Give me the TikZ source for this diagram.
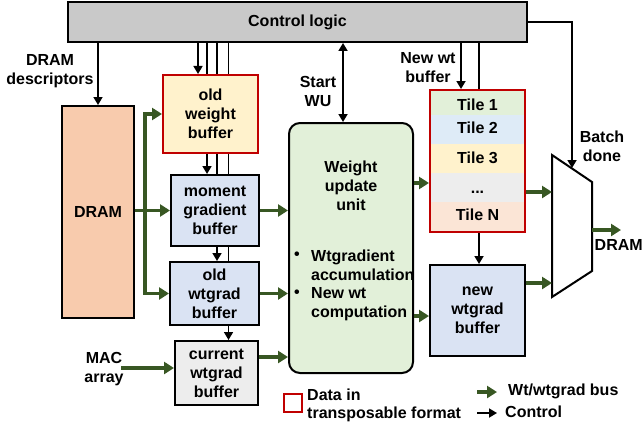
\documentclass[tikz,border=0pt]{standalone}
\usepackage{fontspec}
\setmainfont{Liberation Sans}
\usetikzlibrary{arrows.meta,backgrounds}
\definecolor{busg}{RGB}{56,87,35}
\definecolor{ctrlgray}{RGB}{201,201,201}
\definecolor{dramfill}{RGB}{248,203,173}
\definecolor{yel}{RGB}{255,242,204}
\definecolor{blu}{RGB}{218,227,243}
\definecolor{lgray}{RGB}{237,237,237}
\definecolor{grn}{RGB}{226,240,217}
\definecolor{tblu}{RGB}{222,235,247}
\definecolor{peach}{RGB}{251,229,214}
\definecolor{dred}{RGB}{192,0,0}
\begin{document}
\begin{tikzpicture}[x=1pt,y=-1pt,
  font=\fontsize{16}{19}\selectfont\bfseries,
  box/.style={draw=black, line width=2pt, align=center, inner sep=0pt},
  rowbox/.style={inner sep=0pt, minimum width=95pt},
  lbl/.style={align=center, inner sep=0pt},
  ctl/.style={line width=1.7pt, -{Triangle[length=8pt,width=9pt]}},
  dctl/.style={line width=1.7pt, {Triangle[length=8pt,width=9pt]}-{Triangle[length=8pt,width=9pt]}},
  bus/.style={draw=busg, line width=3.2pt, -{Triangle[length=10pt,width=12pt]}}]
\useasboundingbox (0,0) rectangle (642,428);

% boxes
\node[box, fill=ctrlgray, minimum width=459pt, minimum height=40pt] (ctrl) at (297.5,22) {Control logic};
\node[box, fill=dramfill, minimum width=72pt, minimum height=212pt] (dram) at (98,212) {DRAM};
\node[box, draw=dred, fill=yel, minimum width=95pt, minimum height=78pt] (oldw) at (210.5,114) {old\\weight\\buffer};
\node[box, fill=blu, minimum width=88pt, minimum height=71pt] (mom) at (215,210.5) {moment\\gradient\\buffer};
\node[box, fill=blu, minimum width=89pt, minimum height=63pt] (oldwt) at (214.5,293.5) {old\\wtgrad\\buffer};
\node[box, fill=lgray, minimum width=83pt, minimum height=64pt] (cur) at (216.5,373) {current\\wtgrad\\buffer};
\node[box, fill=grn, rounded corners=11pt, minimum width=124pt, minimum height=250pt] (wu) at (351,248) {};
\node[lbl] (wut) at (351,186) {Weight\\update\\unit};
\node[inner sep=0pt] (b1) at (297,256) {\textbullet};
\node[inner sep=0pt] (b2) at (297,294) {\textbullet};
\node[lbl, anchor=base west] (w1) at (311,261) {Wtgradient};
\node[lbl, anchor=base west] (w2) at (311,280) {accumulation};
\node[lbl, anchor=base west] (w3) at (311,298.5) {New wt};
\node[lbl, anchor=base west] (w4) at (311,317) {computation};

% tiles
\node[rowbox, fill=grn, minimum height=25pt] (t1) at (477.5,102.5) {};
\node[rowbox, fill=tblu, minimum height=29pt] (t2) at (477.5,129.5) {};
\node[rowbox, fill=yel, minimum height=29pt] (t3) at (477.5,158.5) {};
\node[rowbox, fill=lgray, minimum height=29pt] (t4) at (477.5,187.5) {};
\node[rowbox, fill=peach, minimum height=30pt] (t5) at (477.5,217) {};
\node[lbl, anchor=base] (tt1) at (477.5,110) {Tile 1};
\node[lbl, anchor=base] (tt2) at (477.5,133.5) {Tile 2};
\node[lbl, anchor=base] (tt3) at (477.5,163) {Tile 3};
\node[lbl, anchor=base] (tt4) at (477.5,193.5) {...};
\node[lbl, anchor=base] (tt5) at (477.5,220) {Tile N};
\node[draw=dred, line width=2pt, minimum width=95pt, minimum height=142pt, inner sep=0pt] (tiles) at (477.5,161) {};
\node[box, fill=blu, minimum width=95pt, minimum height=91pt] (newwt) at (477.5,310.5) {new\\wtgrad\\buffer};

% mux
\coordinate (m1) at (552,155);
\coordinate (m2) at (592,182);
\coordinate (m3) at (592,271);
\coordinate (m4) at (552,297);
\draw[line width=2pt, fill=white, line join=miter] (m1) -- (m2) -- (m3) -- (m4) -- cycle;
\coordinate (mi1) at (552,192);
\coordinate (mi2) at (552,283);
\coordinate (mo) at (592,230);
\coordinate (dout) at (621,230);
\coordinate (mtop) at (572,168);

% labels
\node[lbl] (ldd) at (50,71) {DRAM\\descriptors};
\node[lbl] (lsw) at (318,91) {Start\\WU};
\node[lbl] (lnw) at (428,68) {New wt\\buffer};
\node[lbl] (lbd) at (602,146) {Batch\\done};
\node[lbl] (lmac) at (104,369) {MAC\\array};
\node[lbl, anchor=west] (ldram) at (594.5,245) {DRAM};

% control lines (behind boxes)
\coordinate (xa) at (198,0);
\coordinate (xb) at (207,0);
\coordinate (xc) at (217,0);
\coordinate (xd) at (228.5,0);
\coordinate (xs) at (343,0);
\coordinate (xn1) at (461,0);
\coordinate (xn2) at (479,0);
\begin{scope}[on background layer]
\draw[ctl] (xa |- ctrl.south) -- (xa |- oldw.north);
\draw[ctl] (xb |- ctrl.south) -- (xb |- mom.north);
\draw[ctl] (xc |- ctrl.south) -- (xc |- oldwt.north);
\draw[ctl] (xd |- ctrl.south) -- (xd |- cur.north);
\draw[ctl] (xn2 |- ctrl.south) -- (xn2 |- newwt.north);
\end{scope}
\draw[ctl] (ctrl.south -| dram.north) -- (dram.north);
\draw[dctl] (xs |- ctrl.south) -- (xs |- wu.north);
\draw[ctl] (xn1 |- ctrl.south) -- (xn1 |- tiles.north);
\draw[ctl] (ctrl.east) -| (mtop);

% bus arrows
\coordinate (br) at (145,210.5);
\draw[bus] (dram.east |- mom.west) -- (mom.west);
\draw[bus] (br) |- (oldw.west);
\draw[bus] (br) |- (oldwt.west);
\draw[bus] (mom.east) -- (mom.east -| wu.west);
\draw[bus] (oldwt.east) -- (oldwt.east -| wu.west);
\coordinate (yc) at (0,357);
\draw[bus] (cur.east |- yc) -- (wu.west |- yc);
\coordinate (mac) at (121,368);
\draw[bus] (mac) -- (mac -| cur.west);
\coordinate (yw1) at (0,183);
\coordinate (yw2) at (0,316);
\draw[bus] (wu.east |- yw1) -- (tiles.west |- yw1);
\draw[bus] (wu.east |- yw2) -- (newwt.west |- yw2);
\draw[bus] (tiles.east |- mi1) -- (mi1);
\draw[bus] (newwt.east |- mi2) -- (mi2);
\draw[bus] (mo) -- (dout);

% legend
\node[draw=dred, line width=2pt, minimum size=18pt, inner sep=0pt] (legsq) at (292.5,402.5) {};
\node[lbl, anchor=west] (leg1) at (307,395) {Data in};
\node[lbl, anchor=west] (leg2) at (307,414) {transposable format};
\node[lbl, anchor=west] (leg3) at (508,391) {Wt/wtgrad bus};
\node[lbl, anchor=west] (leg4) at (505,412) {Control};
\coordinate (lg1) at (477,392);
\coordinate (lg2) at (497,392);
\coordinate (lc1) at (477,413);
\coordinate (lc2) at (497,413);
\draw[bus] (lg1) -- (lg2);
\draw[ctl] (lc1) -- (lc2);
\end{tikzpicture}
\end{document}
